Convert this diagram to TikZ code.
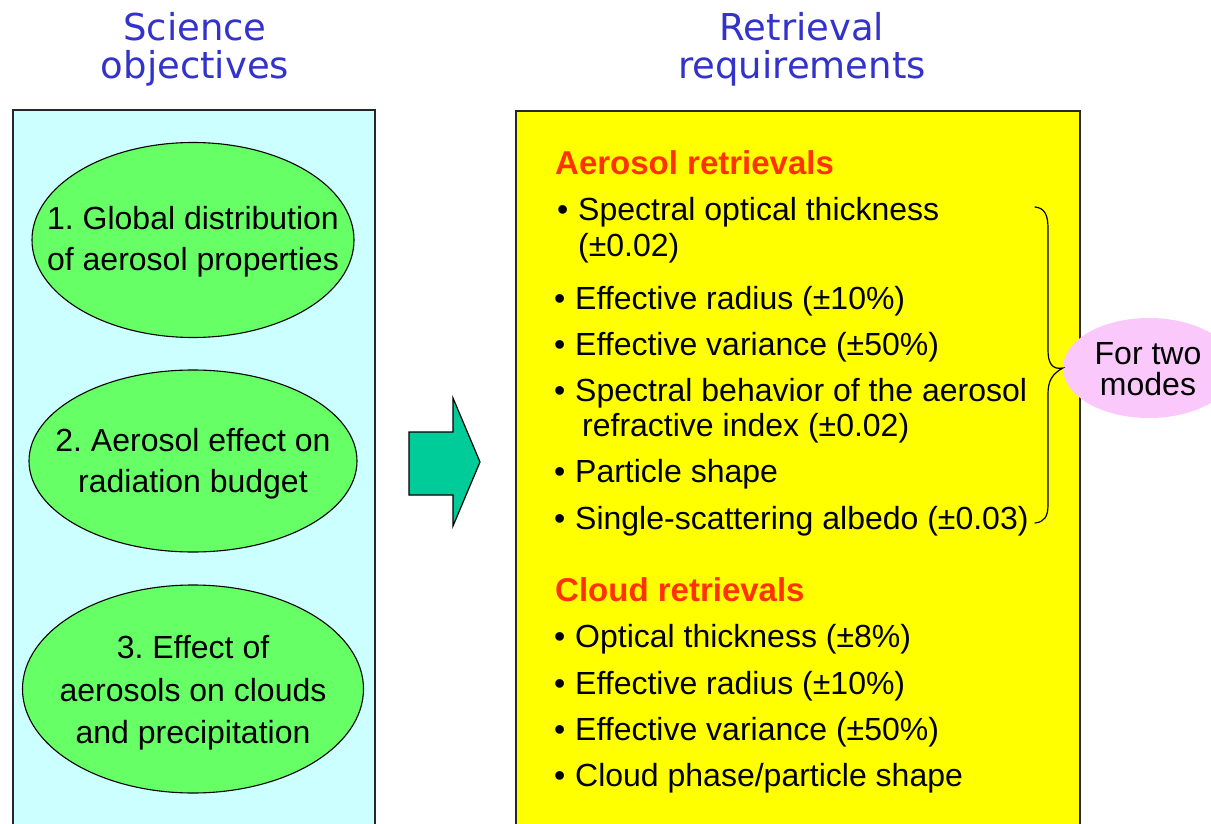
\documentclass[tikz,border=0pt]{standalone}
\usepackage{fontspec}
\setmainfont{Liberation Sans}
\newfontfamily\headfont{DejaVu Sans}
\usetikzlibrary{shapes.geometric}
\frenchspacing

\definecolor{titleblue}{RGB}{51,51,204}
\definecolor{panelcyan}{RGB}{204,255,255}
\definecolor{ovalgreen}{RGB}{102,255,102}
\definecolor{arrowteal}{RGB}{0,204,153}
\definecolor{panelyellow}{RGB}{255,255,0}
\definecolor{headred}{RGB}{255,51,0}
\definecolor{modepink}{RGB}{250,200,250}

\begin{document}
\begin{tikzpicture}[x=1pt,y=-1pt,
  coltitle/.style={anchor=base, inner sep=0pt, text=titleblue,
    font=\headfont\fontsize{37}{38}\selectfont},
  panel/.style={draw=black!85, line width=2pt, anchor=north west, inner sep=0pt},
  oval/.style={ellipse, draw=black, line width=1.1pt, fill=ovalgreen, inner sep=0pt},
  ovaltext/.style={align=center, inner sep=0pt, font=\fontsize{32}{41}\selectfont},
  sechead/.style={anchor=base west, inner sep=0pt, text=headred,
    font=\bfseries\fontsize{33}{36}\selectfont},
  bulletmark/.style={anchor=base west, inner sep=0pt, font=\fontsize{32}{36}\selectfont},
  itemtext/.style={anchor=base west, inner sep=0pt, font=\fontsize{32}{36}\selectfont},
  bracepath/.style={draw=black, line width=1.2pt, line cap=round}
]
\clip (0,0) rectangle (1211,824);
\fill[white] (0,0) rectangle (1211,824);

% column titles
\node[coltitle] (sciA) at (195,41) {Science};
\node[coltitle] (sciB) at (195,79) {objectives};
\node[coltitle] (retA) at (802,41) {Retrieval};
\node[coltitle] (retB) at (802,79) {requirements};

% left panel with the three objectives
\node[panel, fill=panelcyan, minimum width=362pt, minimum height=740pt] (objpanel) at (12,109) {};
\node[oval, minimum width=322pt, minimum height=195pt] (obj1) at (193,240) {};
\node[ovaltext] (obj1t) at (193,242) {1. Global distribution\\of aerosol properties};
\node[oval, minimum width=328pt, minimum height=182pt] (obj2) at (193,461) {};
\node[ovaltext] (obj2t) at (193,464) {2. Aerosol effect on\\radiation budget};
\node[oval, minimum width=341pt, minimum height=208pt] (obj3) at (193,689) {};
\node[ovaltext, font=\fontsize{32}{42.5}\selectfont] (obj3t) at (193,693) {3. Effect of\\aerosols on clouds\\and precipitation};

% block arrow between the panels
\draw[draw=black, line width=1.2pt, fill=arrowteal, line join=miter]
  (409,432) -- (453,432) -- (453,398) -- (480,462) -- (453,526) -- (453,495) -- (409,495) -- cycle;

% right panel with the retrieval requirements
\node[panel, fill=panelyellow, minimum width=564pt, minimum height=740pt] (reqpanel) at (515,110) {};

\node[sechead] (aerohead) at (555,175) {Aerosol retrievals};
\node[bulletmark] (b1) at (557,221) {•};
\node[itemtext] (a1) at (578,221) {Spectral optical thickness};
\node[itemtext] (a1b) at (578,256) {(±0.02)};
\node[bulletmark] (b2) at (554,309) {•};
\node[itemtext] (a2) at (575,309) {Effective radius (±10\%)};
\node[bulletmark] (b3) at (554,355) {•};
\node[itemtext] (a3) at (575,355) {Effective variance (±50\%)};
\node[bulletmark] (b4) at (554,401) {•};
\node[itemtext] (a4) at (575,401) {Spectral behavior of the aerosol};
\node[itemtext] (a4b) at (582,436) {refractive index (±0.02)};
\node[bulletmark] (b5) at (554,482) {•};
\node[itemtext] (a5) at (575,482) {Particle shape};
\node[bulletmark] (b6) at (554,529) {•};
\node[itemtext] (a6) at (575,529) {Single-scattering albedo (±0.03)};

\node[sechead] (cloudhead) at (555,601) {Cloud retrievals};
\node[bulletmark] (c1b) at (554,647) {•};
\node[itemtext] (c1) at (575,647) {Optical thickness (±8\%)};
\node[bulletmark] (c2b) at (554,694) {•};
\node[itemtext] (c2) at (575,694) {Effective radius (±10\%)};
\node[bulletmark] (c3b) at (554,740) {•};
\node[itemtext] (c3) at (575,740) {Effective variance (±50\%)};
\node[bulletmark] (c4b) at (554,786) {•};
\node[itemtext] (c4) at (575,786) {Cloud phase/particle shape};

% "for two modes" callout and its brace
\node[ellipse, fill=modepink, inner sep=0pt, minimum width=172pt, minimum height=100pt] (modes) at (1149,368) {};
\node[align=center, inner sep=0pt, font=\fontsize{32}{31}\selectfont] (modest) at (1148,369) {For two\\modes};
\coordinate (bracetip) at (modes.west);
\draw[bracepath] (1035,207) .. controls (1044,208) and (1048,214) .. (1048,228)
  -- (1048,350) .. controls (1048,363) and (1052,370) .. (bracetip)
  .. controls (1052,374) and (1048,381) .. (1048,394)
  -- (1048,505) .. controls (1048,517) and (1044,522) .. (1035,523);
\end{tikzpicture}
\end{document}
